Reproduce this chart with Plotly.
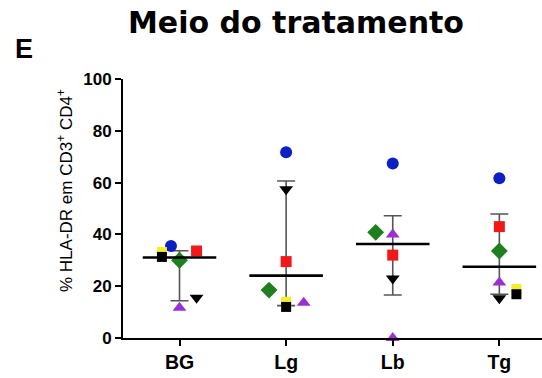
import plotly.graph_objects as go

# ---- data ----
categories = ["BG", "Lg", "Lb", "Tg"]
blue_circle = [35.5, 71.7, 67.4, 61.7]
red_square = [33.6, 29.5, 32.0, 43.0]
yellow_square = [33.2, 14.0, None, 18.9]
black_square = [31.3, 12.0, None, 16.9]
green_diamond = [30.0, 18.5, 40.8, 33.6]
purple_triangle = [11.7, 13.6, 40.0, 21.4]
black_triangle = [15.5, 57.4, 23.0, 15.3]
purple_triangle_b = [None, None, 0.0, None]

center_line = [31.1, 24.1, 36.3, 27.5]
range_low = [14.4, 12.5, 16.6, 16.9]
range_high = [33.7, 60.6, 47.2, 47.9]
y_ticks = [0, 20, 40, 60, 80, 100]

# ---- styling / horizontal jitter (layout only) ----
series = [
    # values, symbol, color, size, jitter offsets per category
    (blue_circle, "circle", "#0b1fc4", 12, [-0.08, 0, 0, 0]),
    (red_square, "square", "#f01818", 11, [0.16, 0, 0, 0]),
    (yellow_square, "square", "#f4ee2a", 10, [-0.165, 0, 0, 0.16]),
    (black_square, "square", "#000000", 10, [-0.165, 0, 0, 0.16]),
    (green_diamond, "diamond", "#1f7f1f", 13, [0, -0.16, -0.16, 0]),
    (purple_triangle, "triangle-up", "#9b2fd1", 12, [0, 0.165, 0, 0]),
    (black_triangle, "triangle-down", "#000000", 12, [0.16, 0, 0, 0]),
    (purple_triangle_b, "triangle-up", "#a62fd8", 12, [0, 0, 0, 0]),
]

FONT = "Arial, Liberation Sans, sans-serif"
WIDE_BOLD = "DejaVu Sans, Arial, sans-serif"
idx = list(range(len(categories)))

fig = go.Figure()

# error bars (range)
fig.add_trace(go.Scatter(
    x=idx, y=center_line, mode="markers",
    marker=dict(size=0.1, color="rgba(0,0,0,0)"),
    error_y=dict(
        type="data", symmetric=False,
        array=[h - c for h, c in zip(range_high, center_line)],
        arrayminus=[c - l for l, c in zip(range_low, center_line)],
        color="#555555", thickness=1.6, width=9,
    ),
    hoverinfo="skip", showlegend=False,
))

# points
for vals, sym, col, size, offs in series:
    xs, ys = [], []
    for i, v in enumerate(vals):
        if v is None:
            continue
        xs.append(i + offs[i])
        ys.append(v)
    fig.add_trace(go.Scatter(
        x=xs, y=ys, mode="markers",
        marker=dict(symbol=sym, color=col, size=size, line=dict(width=0)),
        cliponaxis=False, showlegend=False,
    ))

# center lines
half = 0.345
lx, ly = [], []
for i, c in enumerate(center_line):
    lx += [i - half, i + half, None]
    ly += [c, c, None]
fig.add_trace(go.Scatter(
    x=lx, y=ly, mode="lines", line=dict(color="#000000", width=2.6),
    hoverinfo="skip", showlegend=False,
))

fig.update_layout(
    width=542, height=378,
    margin=dict(l=123, r=0, t=79, b=40),
    paper_bgcolor="white", plot_bgcolor="white",
    font=dict(family=FONT, color="#000000"),
    title=dict(
        text="<b>Meio do tratamento</b>",
        font=dict(size=30, family=WIDE_BOLD, color="#000000"),
        x=296 / 542, xanchor="center", xref="container",
        y=1 - 22 / 378, yanchor="middle", yref="container",
    ),
    xaxis=dict(
        range=[-0.53, 3.40],
        tickmode="array", tickvals=idx, ticktext=[f"<b>{c}</b>" for c in categories],
        showline=True, linecolor="#000000", linewidth=2,
        ticks="outside", ticklen=6, tickwidth=2, tickcolor="#000000",
        tickfont=dict(size=19.5, family=FONT),
        showgrid=False, zeroline=False,
    ),
    yaxis=dict(
        range=[0, 100],
        tickmode="array", tickvals=y_ticks,
        ticktext=[f"<b>{v}</b>" for v in y_ticks],
        showline=True, linecolor="#000000", linewidth=2,
        ticks="outside", ticklen=6, tickwidth=2, tickcolor="#000000",
        tickfont=dict(size=17, family=FONT),
        showgrid=False, zeroline=False,
    ),
    annotations=[
        dict(text="<b>E</b>", xref="paper", yref="paper",
             x=(24 - 123) / 419, y=(338 - 49) / 259,
             xanchor="center", yanchor="middle", showarrow=False,
             font=dict(size=27, family=FONT, color="#000000")),
        dict(text="% HLA-DR em CD3<sup>+</sup> CD4<sup>+</sup>",
             xref="paper", yref="paper",
             x=(65 - 123) / 419, y=(338 - 191) / 259,
             xanchor="center", yanchor="middle", textangle=-90, showarrow=False,
             font=dict(size=17, family=FONT, color="#000000")),
    ],
)

fig.write_html("out.html", config={"displayModeBar": False},
               post_script="document.body.style.margin='0';")
